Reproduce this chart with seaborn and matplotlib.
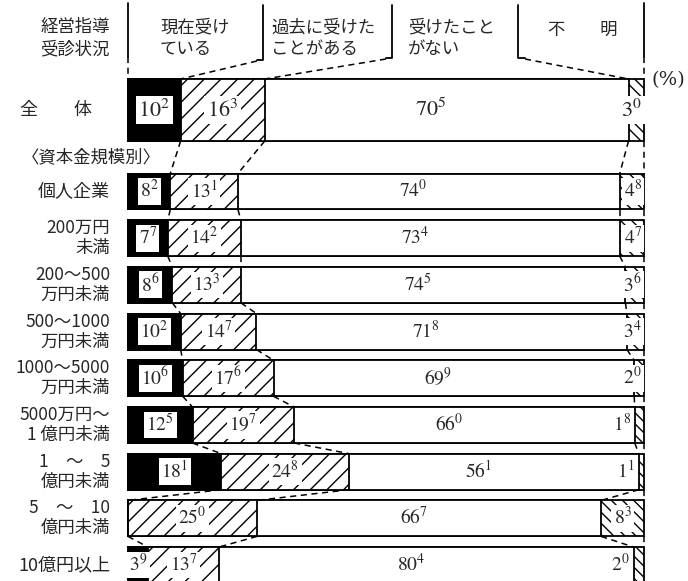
import matplotlib
matplotlib.use("Agg")
import matplotlib.pyplot as plt
import pandas as pd
import seaborn as sns

# 経営指導受診状況 (%)
rows = ["全　　体", "個人企業", "200万円\n未満", "200～500\n万円未満", "500～1000\n万円未満",
        "1000～5000\n万円未満", "5000万円～\n1 億円未満", "1　～　5\n億円未満",
        "5　～　10\n億円未満", "10億円以上"]
now = [10.2, 8.2, 7.7, 8.6, 10.2, 10.6, 12.5, 18.1, 0.0, 3.9]       # 現在受けている
past = [16.3, 13.1, 14.2, 13.3, 14.7, 17.6, 19.7, 24.8, 25.0, 13.7]  # 過去に受けたことがある
never = [70.5, 74.0, 73.4, 74.5, 71.8, 69.9, 66.0, 56.1, 66.7, 80.4] # 受けたことがない
unknown = [3.0, 4.8, 4.7, 3.6, 3.4, 2.0, 1.8, 1.1, 8.3, 2.0]         # 不明
headers = ["現在受け\nている", "過去に受けた\nことがある", "受けたこと\nがない", "不　　明"]

# where the 不明 number sits
unk_place = ["in", "in", "in", "in", "in", "in", "out", "out", "mid", "out"]

sns.set_style("white")
plt.rcParams["font.family"] = ["Noto Sans CJK JP", "DejaVu Sans"]
plt.rcParams["mathtext.fontset"] = "stix"
plt.rcParams["hatch.linewidth"] = 1.0

# layout in pixels (y) / percent (x)
ypos = [110] + [191.5 + 46.7 * i for i in range(9)]
heights = [62] + [36] * 9

df = pd.DataFrame({"y": ypos, "now": now, "past": past, "never": never, "unknown": unknown})
df["c1"] = df["now"]
df["c2"] = df["c1"] + df["past"]
df["c3"] = df["c2"] + df["never"]
df["c4"] = 100.0

fig = plt.figure(figsize=(6.88, 5.81), dpi=100)
ax = fig.add_axes([0, 0, 1, 1])

layers = [("c4", "white", "\\\\\\"), ("c3", "white", None), ("c2", "white", "//"), ("c1", "black", None)]
for col, fc, hatch in layers:
    sns.barplot(data=df, x=col, y="y", orient="y", native_scale=True, width=0.77,
                color=fc, saturation=1, edgecolor="black", linewidth=1.3,
                hatch=hatch, errorbar=None, ax=ax)

# the 全体 bar is drawn taller
for p in ax.patches:
    if abs(p.get_y() + p.get_height() / 2 - ypos[0]) < 1:
        p.set_y(ypos[0] - heights[0] / 2)
        p.set_height(heights[0])

tops = [y - h / 2 for y, h in zip(ypos, heights)]
bots = [y + h / 2 for y, h in zip(ypos, heights)]

def fmt(v):
    t = int(round(v * 10))
    return rf"${t // 10}^{{{t % 10}}}$"

dash = (0, (4, 3))
box = dict(boxstyle="square,pad=0.12", fc="white", ec="none")
for i, r in df.iterrows():
    fs = 16 if i == 0 else 14
    y = r["y"]
    if r["now"] > 0:
        ax.text(r["now"] / 2, y, fmt(r["now"]), ha="center", va="center", fontsize=fs, bbox=box)
    ax.text(r["c1"] + r["past"] / 2, y, fmt(r["past"]), ha="center", va="center", fontsize=fs, bbox=box)
    ax.text(r["c2"] + r["never"] / 2 - 3, y, fmt(r["never"]), ha="center", va="center", fontsize=fs)
    pl = unk_place[i]
    if pl == "in":
        ax.text(99.6, y, fmt(r["unknown"]), ha="right", va="center", fontsize=fs, bbox=box)
    elif pl == "mid":
        ax.text(r["c3"] + r["unknown"] / 2, y, fmt(r["unknown"]), ha="center", va="center", fontsize=fs, bbox=box)
    else:
        ax.text(r["c3"] - 0.8, y, fmt(r["unknown"]), ha="right", va="center", fontsize=fs)

    # row labels
    lines = rows[i].split("\n")
    if i == 0:
        ax.text(-13.9, y, lines[0], ha="center", va="center", fontsize=13)
    elif len(lines) == 1:
        ax.text(-3.5, y, lines[0], ha="right", va="center", fontsize=13)
    else:
        ax.text(-3.5, y - 10, lines[0], ha="right", va="center", fontsize=12.5)
        ax.text(-3.5, y + 10, lines[1], ha="right", va="center", fontsize=12.5)

# dashed connectors between rows
for i in range(len(df) - 1):
    for col in ["c1", "c2", "c3"]:
        ax.plot([df[col][i], df[col][i + 1]], [bots[i], tops[i + 1]], ls=dash, color="black", lw=1.1)
    ax.plot([100, 100], [bots[i], tops[i + 1]], ls=dash, color="black", lw=1.1)

ax.text(-20.5, 157, "〈資本金規模別〉", ha="left", va="center", fontsize=12.5)

# header with brackets
k = 1 / 5.16
ax.plot([0, 0], [3, 57], color="black", lw=1.3)
ax.plot([0, 0], [57, tops[0]], ls=dash, color="black", lw=1.1)
ax.plot([100, 100], [3, 57], color="black", lw=1.3)
ax.plot([100, 100], [57, tops[0]], ls=dash, color="black", lw=1.1)
ax.plot([(257 - 128) * k, (263 - 128) * k, (263 - 128) * k], [60, 60, 5], color="black", lw=1.3)
ax.plot([(386 - 128) * k, (392 - 128) * k, (392 - 128) * k], [58, 58, 5], color="black", lw=1.3)
ax.plot([(525 - 128) * k, (518 - 128) * k, (518 - 128) * k], [58, 58, 5], color="black", lw=1.3)
ax.plot([(257 - 128) * k, df["c1"][0]], [61, tops[0]], ls=dash, color="black", lw=1.1)
ax.plot([(386 - 128) * k, df["c2"][0]], [59, tops[0]], ls=dash, color="black", lw=1.1)
ax.plot([(525 - 128) * k, df["c3"][0]], [59, tops[0]], ls=dash, color="black", lw=1.1)

ax.text(-3.5, 27, "経営指導", ha="right", va="center", fontsize=12.5)
ax.text(-3.5, 49, "受診状況", ha="right", va="center", fontsize=12.5)
hx = [(160 - 128) * k, (271 - 128) * k, (408 - 128) * k]
for x, h in zip(hx, headers[:3]):
    a, b = h.split("\n")
    ax.text(x, 27, a, ha="left", va="center", fontsize=12.5)
    ax.text(x, 49, b, ha="left", va="center", fontsize=12.5)
ax.text((583 - 128) * k, 30, headers[3], ha="center", va="center", fontsize=12.5)
ax.text(104.8, 80, "(%)", ha="center", va="center", fontsize=14, family="DejaVu Serif")

ax.set_xlim(-128 * k, (688 - 128) * k)
ax.set_ylim(581, 0)
ax.axis("off")
fig.savefig("out.png", dpi=100)
